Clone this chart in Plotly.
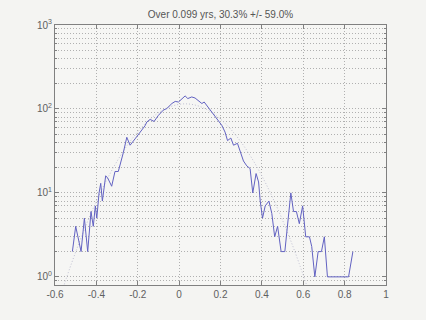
import plotly.graph_objects as go

# Histogram line (blue)
hist_x = [-0.516, -0.500, -0.474, -0.458, -0.442, -0.426, -0.415, -0.405, -0.398,
          -0.387, -0.379, -0.371, -0.355, -0.345, -0.326, -0.310, -0.294, -0.286,
          -0.270, -0.253, -0.237, -0.213, -0.195, -0.181, -0.165, -0.156, -0.140,
          -0.121, -0.100, -0.076, -0.060, -0.035, -0.019, -0.003, 0.016, 0.029,
          0.042, 0.061, 0.077, 0.093, 0.110, 0.121, 0.142, 0.158, 0.174, 0.190,
          0.206, 0.222, 0.234, 0.250, 0.263, 0.282, 0.295, 0.311, 0.327, 0.343,
          0.356, 0.372, 0.384, 0.392, 0.403, 0.416, 0.434, 0.448, 0.462, 0.476,
          0.493, 0.511, 0.540, 0.553, 0.567, 0.581, 0.597, 0.612, 0.630, 0.641,
          0.656, 0.672, 0.688, 0.702, 0.717, 0.740, 0.760, 0.780, 0.800, 0.819,
          0.840]
hist_y = [2, 4, 2, 5, 2, 6, 4, 7, 5,
          10, 13, 8, 16, 15, 12, 18, 18, 21,
          30, 46, 37, 44, 50, 56, 63, 70, 75,
          71, 84, 97, 101, 116, 123, 121, 133, 143,
          133, 139, 135, 126, 116, 121, 103, 92, 80, 70,
          64, 53, 42, 45, 37, 39, 31, 24, 21, 19.5,
          10, 17, 13.5, 8, 5, 7, 8, 5.7, 3, 4,
          2, 2, 10, 6, 6, 4.3, 7, 3, 3, 2.3,
          1, 2, 2, 3, 1, 1, 1, 1, 1, 1,
          2]

# Normal fit curve (dotted)
fit_x = [-0.56, -0.52, -0.48, -0.44, -0.40, -0.36, -0.32, -0.28, -0.24, -0.20,
         -0.16, -0.12, -0.08, -0.04, 0.00, 0.03, 0.06, 0.10, 0.14, 0.18, 0.22,
         0.26, 0.30, 0.34, 0.38, 0.42, 0.46, 0.50, 0.54, 0.58, 0.62]
fit_y = [0.75, 1.45, 2.68, 4.73, 7.95, 12.8, 19.6, 28.7, 40.1, 53.5,
         68.3, 83.1, 96.6, 107.1, 113.5, 115, 113.5, 107.1, 96.6, 83.1, 68.3,
         53.5, 40.1, 28.7, 19.6, 12.8, 7.95, 4.73, 2.68, 1.45, 0.75]

x_ticks = [-0.6, -0.4, -0.2, 0, 0.2, 0.4, 0.6, 0.8, 1]
x_labels = ["-0.6", "-0.4", "-0.2", "0", "0.2", "0.4", "0.6", "0.8", "1"]
y_ticks = [1, 10, 100, 1000]
y_labels = ["10<sup>0</sup>", "10<sup>1</sup>", "10<sup>2</sup>", "10<sup>3</sup>"]
y_minor = [0.8, 0.9] + [k * 10 ** e for e in range(0, 3) for k in range(2, 10)]

title_text = "Over 0.099 yrs, 30.3% +/- 59.0%"

fig = go.Figure()
fig.add_trace(go.Scatter(x=fit_x, y=fit_y, mode="lines", line_shape="spline",
                         line=dict(color="#c0c0d2", width=1, dash="1px,2px"),
                         hoverinfo="skip", showlegend=False))
fig.add_trace(go.Scatter(x=hist_x, y=hist_y, mode="lines",
                         line=dict(color="#6262c2", width=1),
                         showlegend=False))

axis_col = "#808080"
grid_col = "#b0b0b0"
font_col = "#606060"

fig.update_layout(
    width=426, height=320,
    margin=dict(l=55, r=40, t=25, b=35),
    paper_bgcolor="#f4f4f2",
    plot_bgcolor="#f6f6f4",
    font=dict(family="Liberation Sans, Arial, sans-serif", size=10, color=font_col),
    title=dict(text=title_text, x=0.5, xref="paper", xanchor="center",
               y=1, yref="paper", yanchor="bottom", pad=dict(b=7),
               font=dict(size=10, color="#555555")),
)
fig.update_xaxes(
    range=[-0.6, 1], tickvals=x_ticks, ticktext=x_labels,
    showline=True, linecolor=axis_col, linewidth=1, mirror="allticks",
    ticks="inside", ticklen=4, tickcolor=axis_col,
    showgrid=True, gridcolor=grid_col, griddash="1px,2px", gridwidth=1,
    zeroline=False, tickfont=dict(size=10, color=font_col),
)
fig.update_yaxes(
    type="log", range=[-0.0969, 3], tickvals=y_ticks, ticktext=y_labels,
    showline=True, linecolor=axis_col, linewidth=1, mirror="allticks",
    ticks="inside", ticklen=4, tickcolor=axis_col,
    showgrid=True, gridcolor=grid_col, griddash="1px,2px", gridwidth=1,
    zeroline=False, tickfont=dict(size=10, color=font_col),
    minor=dict(tickvals=y_minor, ticks="inside", ticklen=2, tickcolor=axis_col,
               showgrid=True, gridcolor=grid_col, griddash="1px,2px", gridwidth=1),
)

fig.write_html("out.html")
